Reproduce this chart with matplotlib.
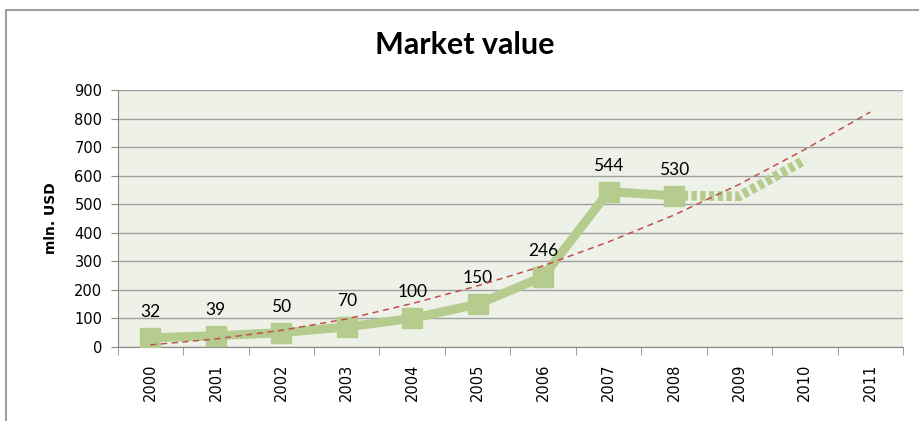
import numpy as np
import matplotlib.pyplot as plt
from matplotlib.patches import Rectangle

years = ['2000', '2001', '2002', '2003', '2004', '2005',
         '2006', '2007', '2008', '2009', '2010', '2011']
actual = [32, 39, 50, 70, 100, 150, 246, 544, 530]
forecast_idx = [8, 9, 10]
forecast = [530, 528, 655]
trend = [7, 28, 58, 98, 152, 214, 284, 368, 462, 570, 692, 823]

green = '#B5CC8E'
fig = plt.figure(figsize=(9.2, 4.21), dpi=100)
ax = fig.add_axes([0.128, 0.176, 0.8535, 0.61])
ax.set_facecolor('#EEF1E7')

x = np.arange(len(years))
ax.plot(x[:len(actual)], actual, color=green, lw=6.5, marker='s', ms=15,
        solid_joinstyle='miter', zorder=3)
ax.plot(forecast_idx, forecast, color=green, lw=7,
        linestyle=(0, (0.55, 0.35)), dash_capstyle='butt', zorder=3)
ax.plot(x, trend, color='#C0504D', lw=1.1, linestyle=(0, (4, 3)), zorder=4)

for i, v in enumerate(actual):
    ax.annotate(str(v), (i, v), xytext=(0, 13), textcoords='offset points',
                ha='center', va='bottom', fontsize=12.5, family='Lato')

ax.set_xlim(-0.5, len(years) - 0.5)
ax.set_ylim(0, 900)
ax.set_yticks(range(0, 901, 100))
ax.yaxis.grid(True, color='#A0A0A0', lw=1)
ax.set_axisbelow(True)
ax.set_xticks(x)
ax.set_xticklabels(years, rotation=90, fontsize=10.5, family='DejaVu Sans')
ax.set_xticks(np.arange(-0.5, len(years)), minor=True)
ax.tick_params(axis='x', which='major', length=0, pad=12)
ax.tick_params(axis='x', which='minor', length=6, color='#888888', direction='out')
ax.tick_params(axis='y', length=5, color='#888888', labelsize=10.5, pad=6)
for s in ['top', 'right']:
    ax.spines[s].set_visible(False)
for s in ['left', 'bottom']:
    ax.spines[s].set_color('#888888')

ax.set_ylabel('mln. USD', fontsize=10, fontweight='bold', labelpad=12)
fig.text(0.505, 0.893, 'Market value', ha='center', va='center',
         fontsize=22, fontweight='bold', family='Lato')

fig.patches.append(Rectangle((6 / 920, -0.05), 1.2, 1 - 10 / 421 + 0.05,
                             transform=fig.transFigure, fill=False,
                             edgecolor='#A0A0A0', lw=1.5))

fig.savefig('out.png', dpi=100)
